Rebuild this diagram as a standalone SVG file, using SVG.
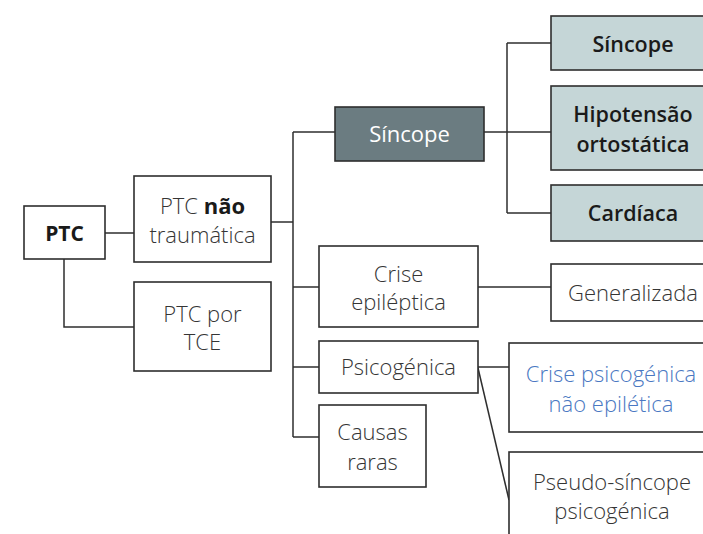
<svg xmlns="http://www.w3.org/2000/svg" width="703" height="534" viewBox="0 0 703 534">
<style>
.box{fill:#fff;stroke:#2e2e2e;stroke-width:1.6}
.dark{fill:#6b7c81;stroke:#2e2e2e;stroke-width:1.6}
.light{fill:#c5d6d7;stroke:#2e2e2e;stroke-width:1.6}
.ln{fill:none;stroke:#2e2e2e;stroke-width:1.5}
text{font-family:"Open Sans","Liberation Sans",sans-serif;font-size:22px;text-anchor:middle;fill:#353535;font-weight:300}
.b{font-weight:700;fill:#1a1a1a}
.sb{font-weight:600;fill:#1a1a1a;font-size:21.5px}
.w{fill:#ffffff;font-weight:500}
.blue{fill:#4a78c2}
</style>
<rect width="703" height="534" fill="#fff"/>
<g id="connectors">
<path class="ln" d="M105 233H134"/>
<path class="ln" d="M64 259V327H134"/>
<path class="ln" d="M271 222H293"/>
<path class="ln" d="M293 132V437"/>
<path class="ln" d="M293 132H335"/>
<path class="ln" d="M293 287H319"/>
<path class="ln" d="M293 367H319"/>
<path class="ln" d="M293 437H319"/>
<path class="ln" d="M484 132H551"/>
<path class="ln" d="M507 43V213"/>
<path class="ln" d="M507 43H551"/>
<path class="ln" d="M507 213H551"/>
<path class="ln" d="M478 287H551"/>
<path class="ln" d="M478 367H509"/>
<path class="ln" d="M478 368L509 500"/>
</g>
<g id="ptc"><rect class="box" x="24" y="206" width="81" height="53"/><text class="b" x="64.5" y="241" style="font-size:21px">PTC</text></g>
<g id="nao-traumatica"><rect class="box" x="134" y="176" width="137" height="86"/><text x="202.5" y="214">PTC <tspan class="b">não</tspan></text><text x="202.5" y="243">traumática</text></g>
<g id="por-tce"><rect class="box" x="134" y="282" width="137" height="89"/><text x="202.5" y="322">PTC por</text><text x="202.5" y="350">TCE</text></g>
<g id="sincope-main"><rect class="dark" x="335" y="107" width="149" height="54"/><text class="w" x="409.5" y="142">Síncope</text></g>
<g id="sincope"><rect class="light" x="551" y="16" width="160" height="54"/><text class="sb" x="633" y="52">Síncope</text></g>
<g id="hipotensao"><rect class="light" x="551" y="86" width="160" height="84"/><text class="sb" x="633" y="122">Hipotensão</text><text class="sb" x="633" y="152">ortostática</text></g>
<g id="cardiaca"><rect class="light" x="551" y="185" width="160" height="56"/><text class="sb" x="633" y="221">Cardíaca</text></g>
<g id="crise-epileptica"><rect class="box" x="319" y="246" width="159" height="81"/><text x="398.5" y="282">Crise</text><text x="398.5" y="310">epiléptica</text></g>
<g id="generalizada"><rect class="box" x="551" y="264" width="160" height="57"/><text x="633" y="301">Generalizada</text></g>
<g id="psicogenica"><rect class="box" x="319" y="341" width="159" height="52"/><text x="398.5" y="375">Psicogénica</text></g>
<g id="crise-psicogenica"><rect class="box" x="509" y="343" width="200" height="89"/><text class="blue" x="611" y="382">Crise psicogénica</text><text class="blue" x="611" y="412">não epilética</text></g>
<g id="causas-raras"><rect class="box" x="319" y="405" width="107" height="82"/><text x="372.5" y="440">Causas</text><text x="372.5" y="470">raras</text></g>
<g id="pseudo-sincope"><rect class="box" x="509" y="452" width="200" height="100"/><text x="612" y="490">Pseudo-síncope</text><text x="612" y="519">psicogénica</text></g>
</svg>
